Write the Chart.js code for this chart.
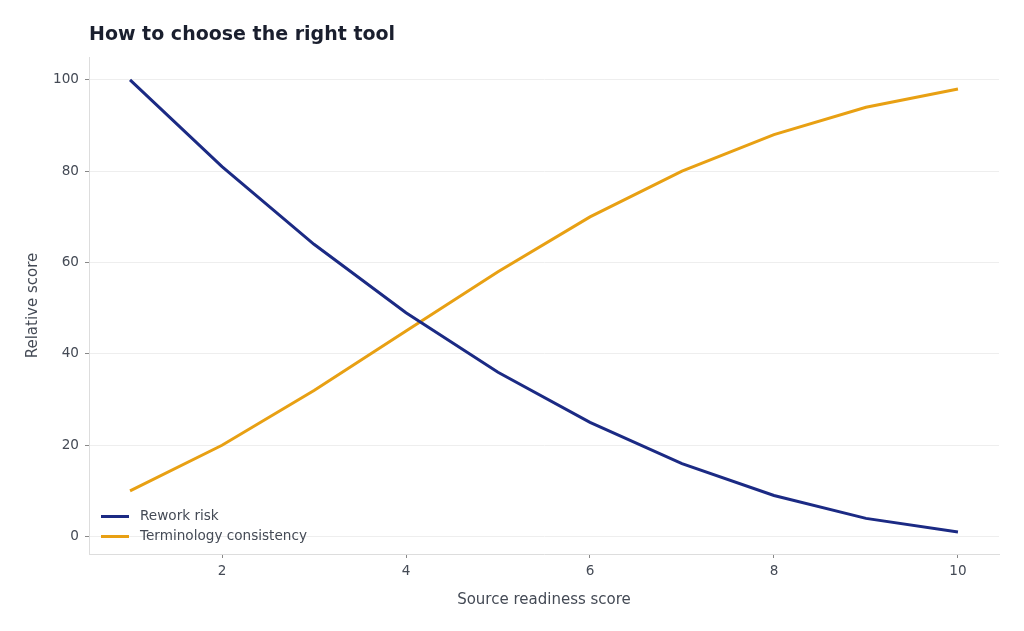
<!DOCTYPE html>
<html>
<head>
<meta charset="utf-8">
<script src="https://cdn.jsdelivr.net/npm/chart.js@4.4.0/dist/chart.umd.min.js"></script>
<style>
html,body{margin:0;padding:0;background:#fff;}
#wrap{width:1024px;height:631px;position:relative;}
</style>
</head>
<body>
<div id="wrap"><canvas id="c" width="1024" height="631"></canvas></div>
<script>
const chartTitle = "How to choose the right tool";
const xTitle = "Source readiness score";
const yTitle = "Relative score";
const xValues = [1, 2, 3, 4, 5, 6, 7, 8, 9, 10];
const reworkRisk = [100, 81, 64, 49, 36, 25, 16, 9, 4, 1];
const terminologyConsistency = [10, 20, 32, 45, 58, 70, 80, 88, 94, 98];
const seriesNames = ["Rework risk", "Terminology consistency"];
const xTicks = [2, 4, 6, 8, 10];
const yTicks = [0, 20, 40, 60, 80, 100];

const FONT = "'DejaVu Sans', sans-serif";
const colors = ["#1b2a84", "#e8a013"];

const titleLegendPlugin = {
  id: 'titleLegend',
  afterDraw(chart) {
    const ctx = chart.ctx, a = chart.chartArea;
    ctx.save();
    ctx.fillStyle = '#1a1f2e';
    ctx.font = "bold 19px " + FONT;
    ctx.textBaseline = 'middle';
    ctx.textAlign = 'left';
    ctx.fillText(chartTitle, a.left, 35.5);
    ctx.font = "13.6px " + FONT;
    chart.data.datasets.forEach((ds, i) => {
      const y = a.bottom - 37.5 + i * 20;
      ctx.strokeStyle = ds.borderColor;
      ctx.lineWidth = 3;
      ctx.beginPath();
      ctx.moveTo(a.left + 12, y);
      ctx.lineTo(a.left + 40, y);
      ctx.stroke();
      ctx.fillStyle = '#444a55';
      ctx.fillText(ds.label, a.left + 51, y);
    });
    ctx.restore();
  }
};

new Chart(document.getElementById('c'), {
  type: 'line',
  data: {
    datasets: [
      { label: seriesNames[0], data: xValues.map((x, i) => ({x, y: reworkRisk[i]})), borderColor: colors[0], backgroundColor: colors[0], borderWidth: 3, pointRadius: 0, tension: 0 },
      { label: seriesNames[1], data: xValues.map((x, i) => ({x, y: terminologyConsistency[i]})), borderColor: colors[1], backgroundColor: colors[1], borderWidth: 3, pointRadius: 0, tension: 0 }
    ]
  },
  options: {
    responsive: false,
    animation: false,
    devicePixelRatio: 1,
    layout: { padding: { left: 20, right: 25, top: 57, bottom: 18 } },
    plugins: { legend: { display: false }, title: { display: false }, tooltip: { enabled: false } },
    scales: {
      x: {
        type: 'linear', min: 0.554, max: 10.446,
        afterBuildTicks: s => { s.ticks = xTicks.map(v => ({value: v})); },
        afterFit: s => { s.height = 59; },
        grid: { drawOnChartArea: false, drawTicks: true, tickLength: 4, tickColor: '#888' },
        border: { color: '#dddddd', width: 1 },
        ticks: { color: '#444a55', font: { family: FONT, size: 13.6 }, padding: 5, maxRotation: 0 },
        title: { display: true, text: xTitle, color: '#444a55', font: { family: FONT, size: 15 }, padding: { top: 12 } }
      },
      y: {
        type: 'linear', min: -3.8, max: 105,
        afterBuildTicks: s => { s.ticks = yTicks.map(v => ({value: v})); },
        afterFit: s => { s.width = 69; },
        grid: { color: '#eeeeee', lineWidth: 1, drawTicks: true, tickLength: 4, tickColor: '#888' },
        border: { color: '#dddddd', width: 1 },
        ticks: { color: '#444a55', font: { family: FONT, size: 13.6 }, padding: 6 },
        title: { display: true, text: yTitle, color: '#444a55', font: { family: FONT, size: 15 }, padding: { bottom: 10 } }
      }
    }
  },
  plugins: [titleLegendPlugin]
});
</script>
</body>
</html>
